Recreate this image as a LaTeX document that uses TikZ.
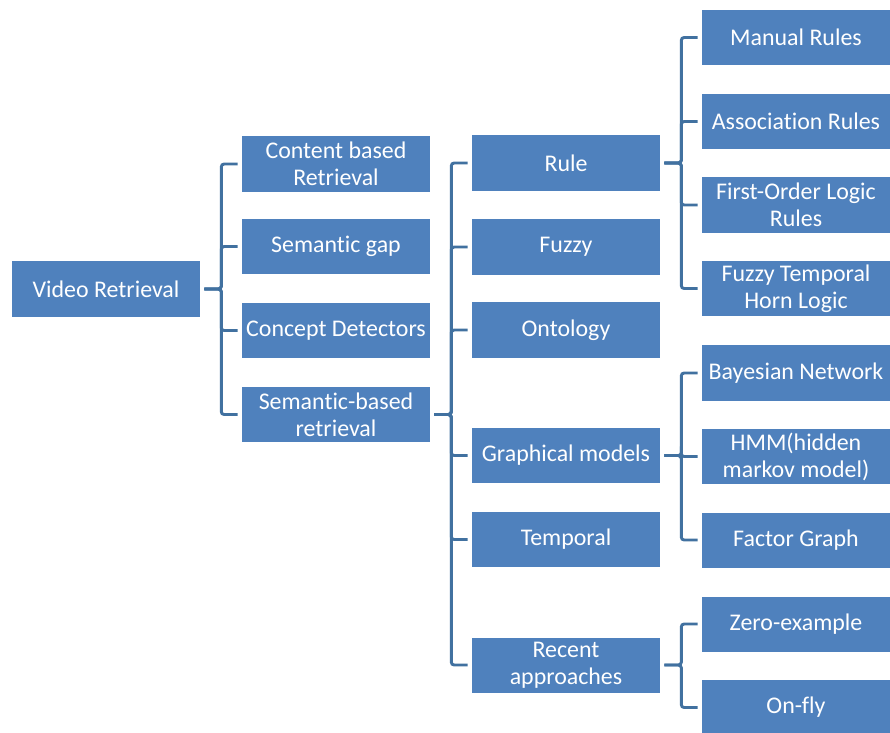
\documentclass[tikz,border=0pt]{standalone}
\usepackage{fontspec}
\setmainfont{Carlito}[Ligatures=NoCommon]
\definecolor{boxblue}{RGB}{79,129,189}
\definecolor{lineblue}{RGB}{65,113,160}
\tikzset{
  box/.style={fill=boxblue, text=white, minimum width=4.7cm, minimum height=1.375cm,
    inner sep=0pt, align=center, font=\fontsize{17}{19.2}\selectfont},
  link/.style={draw=lineblue, line width=2.1pt, rounded corners=2pt,
    shorten <=0.1cm, shorten >=0.1cm}
}
\begin{document}
\begin{tikzpicture}[x=0.025cm, y=-0.025cm]
\useasboundingbox (0,0) rectangle (890,732);

\node[box] (vr) at (106,289) {Video Retrieval};

\node[box] (cbr) at (336,164) {Content based\\Retrieval};
\node[box] (sgap) at (336,246.5) {Semantic gap};
\node[box] (cdet) at (336,330.5) {Concept Detectors};
\node[box] (sbr) at (336,414.5) {Semantic-based\\retrieval};

\node[box] (rule) at (566,163) {Rule};
\node[box] (fuzzy) at (566,247) {Fuzzy};
\node[box] (onto) at (566,330) {Ontology};
\node[box] (gmod) at (566,455.5) {Graphical models};
\node[box] (temp) at (566,539.5) {Temporal};
\node[box] (recent) at (566,665) {Recent\\approaches};

\node[box] (manual) at (796,37.5) {Manual Rules};
\node[box] (assoc) at (796,121.5) {Association Rules};
\node[box] (fol) at (796,205) {First-Order Logic\\Rules};
\node[box] (fthl) at (796,288.5) {Fuzzy Temporal\\Horn Logic};
\node[box] (bayes) at (796,373) {Bayesian Network};
\node[box] (hmm) at (796,456.5) {HMM(hidden\\markov model)};
\node[box] (fgraph) at (796,540) {Factor Graph};
\node[box] (zero) at (796,624) {Zero-example};
\node[box] (onfly) at (796,707.5) {On-fly};

% first level
\foreach \c in {cbr,sgap,cdet,sbr}
  \draw[link] (vr.east) -- ++(21,0) |- (\c.west);

% semantic-based retrieval
\foreach \c in {rule,fuzzy,onto,gmod,temp,recent}
  \draw[link] (sbr.east) -- ++(21,0) |- (\c.west);

% rule
\foreach \c in {manual,assoc,fol,fthl}
  \draw[link] (rule.east) -- ++(21,0) |- (\c.west);

% graphical models
\foreach \c in {bayes,hmm,fgraph}
  \draw[link] (gmod.east) -- ++(21,0) |- (\c.west);

% recent approaches
\foreach \c in {zero,onfly}
  \draw[link] (recent.east) -- ++(21,0) |- (\c.west);
\end{tikzpicture}
\end{document}
